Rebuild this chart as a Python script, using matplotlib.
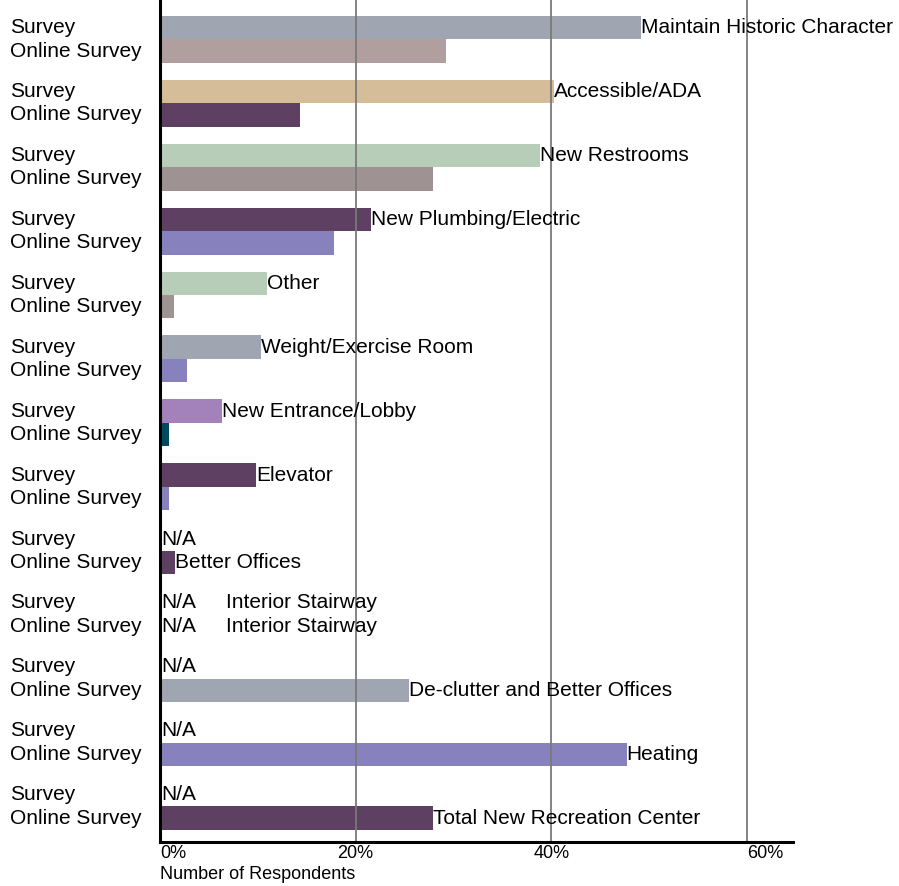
import matplotlib
matplotlib.use('Agg')
import matplotlib.pyplot as plt
import numpy as np
from matplotlib.transforms import blended_transform_factory

plt.rcParams['font.family'] = ['Liberation Sans', 'DejaVu Sans']

# ---- data ----
categories = ["Maintain Historic Character", "Accessible/ADA", "New Restrooms",
              "New Plumbing/Electric", "Other", "Weight/Exercise Room",
              "New Entrance/Lobby", "Elevator", "Better Offices",
              "Interior Stairway", "De-clutter and Better Offices", "Heating",
              "Total New Recreation Center"]
survey = [49.2, 40.3, 38.8, 21.6, 10.9, 10.3, 6.3, 9.8, None, None, None, None, None]
online = [29.2, 14.3, 27.9, 17.8, 1.4, 2.8, 0.9, 0.9, 1.5, None, 25.5, 47.7, 27.9]
row_labels = ["Survey", "Online Survey"]
xticks = [0, 20, 40, 60]
xtick_labels = ["0%", "20%", "40%", "60%"]
xlabel = "Number of Respondents"
na_text = "N/A"

survey_colors = ['#A0A6B1', '#D6BD9A', '#B7CDB8', '#5E4162', '#B7CDB8', '#A0A6B1',
                 '#A381BA', '#5E4162', '#5E4162', '#5E4162', '#A0A6B1', '#8782BD', '#5E4162']
online_colors = ['#B19F9F', '#5E4162', '#9E9292', '#8782BD', '#9E9292', '#8782BD',
                 '#004B60', '#8782BD', '#5E4162', '#5E4162', '#A0A6B1', '#8782BD', '#5E4162']

# ---- figure ----
W, H = 899, 886
fig = plt.figure(figsize=(W / 100, H / 100), dpi=100)
ax = fig.add_axes([160 / W, 44 / H, (793 - 160) / W, 842 / H])

n = len(categories)
idx = np.arange(n)
h = 0.367
fs = 15

for i in idx:
    ys = i - h / 2
    yo = i + h / 2
    if survey[i] is not None:
        ax.barh(ys, survey[i], height=h, color=survey_colors[i], zorder=1)
    if online[i] is not None:
        ax.barh(yo, online[i], height=h, color=online_colors[i], zorder=1)

    if survey[i] is not None:
        ax.text(survey[i], ys, categories[i], ha='left', va='center', fontsize=fs, zorder=3)
    elif online[i] is not None:
        ax.text(0.1, ys, na_text, ha='left', va='center', fontsize=fs, zorder=3)
        ax.text(online[i], yo, categories[i], ha='left', va='center', fontsize=fs, zorder=3)
    else:
        for y in (ys, yo):
            ax.text(0.1, y, na_text, ha='left', va='center', fontsize=fs, zorder=3)
            ax.text(6.75, y, categories[i], ha='left', va='center', fontsize=fs, zorder=3)

# row labels on the left
tr = blended_transform_factory(fig.transFigure, ax.transData)
for i in idx:
    ax.text(10 / W, i - h / 2, row_labels[0], transform=tr, ha='left', va='center',
            fontsize=fs, clip_on=False)
    ax.text(10 / W, i + h / 2, row_labels[1], transform=tr, ha='left', va='center',
            fontsize=fs, clip_on=False)

ax.set_xlim(0, 64.7)
ax.set_ylim(12.556, -0.615)
ax.set_yticks([])
ax.set_xticks(xticks)
ax.set_xticklabels(xtick_labels)
ax.tick_params(axis='x', length=0, pad=2, labelsize=13)
tl = ax.get_xticklabels()
tl[0].set_ha('left')
tl[3].set_ha('left')

ax.grid(axis='x', color='#7a7a7a', lw=1.3, zorder=2)
ax.set_axisbelow(False)
for s in ('top', 'right'):
    ax.spines[s].set_visible(False)
for s in ('left', 'bottom'):
    ax.spines[s].set_linewidth(2.2)
    ax.spines[s].set_color('black')
    ax.spines[s].set_zorder(4)

fig.text(160 / W, 1 - 866 / H, xlabel, ha='left', va='top', fontsize=13)

fig.savefig('out.png', dpi=100)
